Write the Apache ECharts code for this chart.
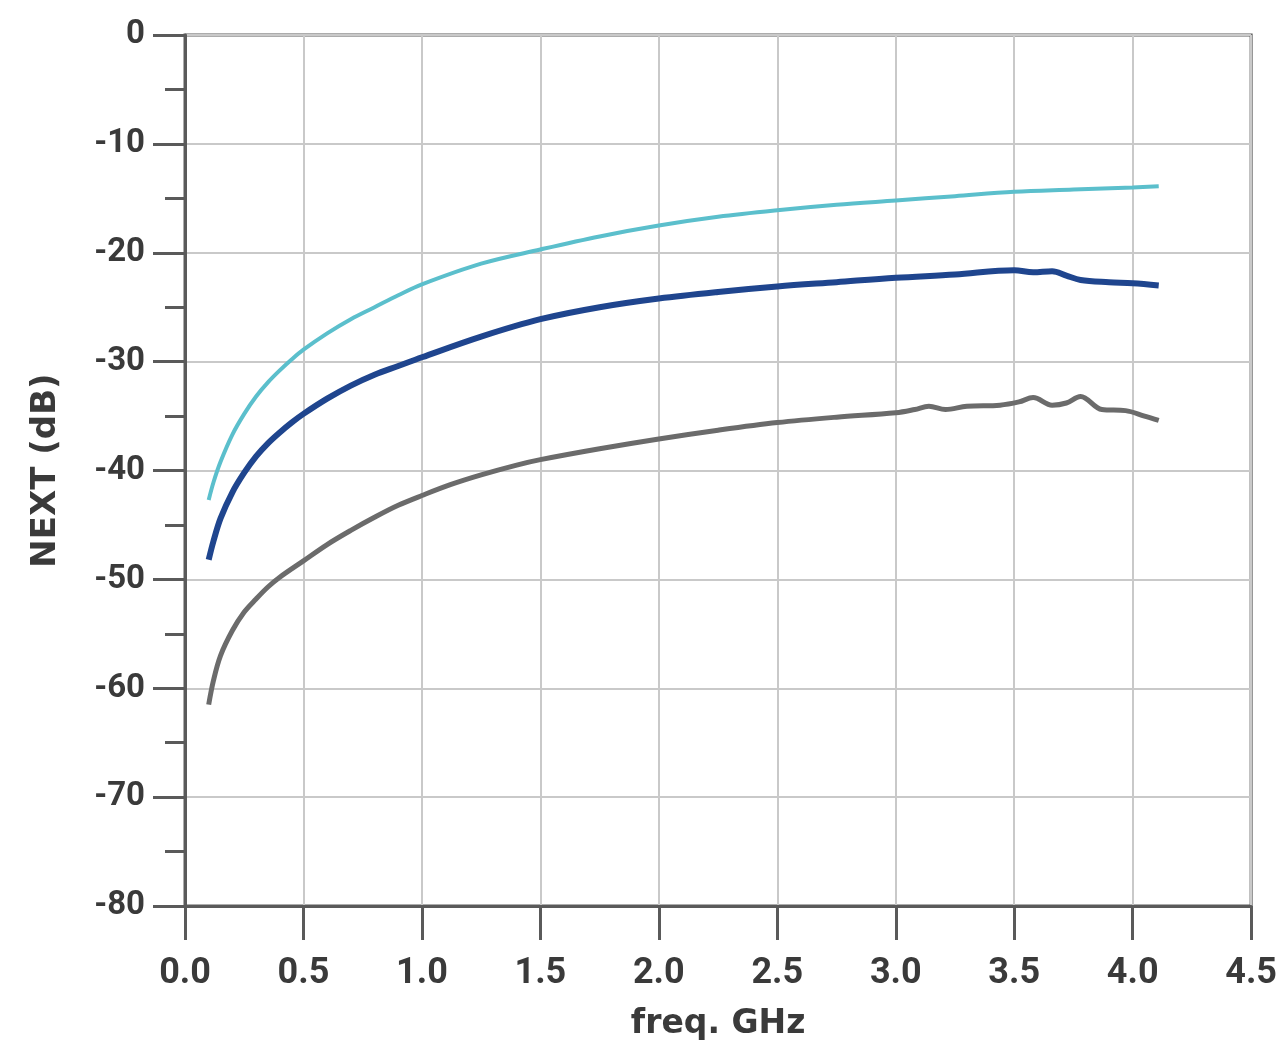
<!DOCTYPE html>
<html>
<head>
<meta charset="utf-8">
<script src="https://cdn.jsdelivr.net/npm/echarts@6/dist/echarts.min.js"></script>
<style>html,body{margin:0;padding:0;background:#fff}#chart{width:1280px;height:1052px}</style>
</head>
<body>
<div id="chart"></div>
<script>
// Tick values
const xTicks = [0.0, 0.5, 1.0, 1.5, 2.0, 2.5, 3.0, 3.5, 4.0, 4.5];
const yTicks = [0, -10, -20, -30, -40, -50, -60, -70, -80];

// Cyan curve (upper)
const cyanFreq = [0.10, 0.12, 0.15, 0.20, 0.25, 0.30, 0.35, 0.40, 0.45, 0.50, 0.60, 0.70, 0.80, 0.90, 1.00, 1.25, 1.50, 1.75, 2.00, 2.25, 2.50, 2.75, 3.00, 3.25, 3.50, 3.75, 4.00, 4.11];
const cyanNext = [-42.7, -41.1, -39.2, -36.7, -34.8, -33.2, -31.9, -30.8, -29.8, -28.9, -27.4, -26.1, -25.0, -23.9, -22.9, -21.0, -19.7, -18.5, -17.5, -16.7, -16.1, -15.6, -15.2, -14.8, -14.4, -14.2, -14.0, -13.9];

// Dark blue curve (middle)
const blueFreq = [0.10, 0.12, 0.15, 0.20, 0.25, 0.30, 0.35, 0.40, 0.45, 0.50, 0.60, 0.70, 0.80, 0.90, 1.00, 1.25, 1.50, 1.75, 2.00, 2.25, 2.50, 2.75, 3.00, 3.25, 3.50, 3.58, 3.66, 3.72, 3.78, 3.90, 4.00, 4.11];
const blueNext = [-48.2, -46.5, -44.4, -42.0, -40.2, -38.7, -37.5, -36.5, -35.6, -34.8, -33.4, -32.2, -31.2, -30.4, -29.6, -27.7, -26.1, -25.0, -24.2, -23.6, -23.1, -22.7, -22.3, -22.0, -21.6, -21.8, -21.7, -22.1, -22.5, -22.7, -22.8, -23.0];

// Gray curve (lower)
const grayFreq = [0.10, 0.12, 0.15, 0.20, 0.25, 0.30, 0.35, 0.40, 0.50, 0.60, 0.70, 0.80, 0.90, 1.00, 1.12, 1.25, 1.40, 1.50, 1.75, 2.00, 2.25, 2.50, 2.75, 3.00, 3.08, 3.14, 3.21, 3.30, 3.44, 3.52, 3.58, 3.66, 3.72, 3.78, 3.87, 3.97, 4.05, 4.11];
const grayNext = [-61.5, -59.3, -57.0, -54.7, -53.0, -51.8, -50.7, -49.8, -48.3, -46.8, -45.5, -44.3, -43.2, -42.3, -41.3, -40.4, -39.5, -39.0, -38.0, -37.1, -36.3, -35.6, -35.1, -34.7, -34.4, -34.1, -34.4, -34.1, -34.0, -33.7, -33.3, -34.0, -33.8, -33.2, -34.4, -34.5, -35.0, -35.4];

const pair = (xs, ys) => xs.map((x, i) => [x, ys[i]]);

const chart = echarts.init(document.getElementById('chart'), null, {renderer: 'canvas'});
const axisColor = '#5a5a5a';
const labelColor = '#3a3a3a';
chart.setOption({
  animation: false,
  backgroundColor: '#ffffff',
  grid: {left: 185, right: 28, top: 35, bottom: 146, show: true, borderColor: axisColor, borderWidth: 3, backgroundColor: 'transparent'},
  xAxis: {
    type: 'value',
    min: xTicks[0], max: xTicks[xTicks.length - 1], interval: 0.5,
    name: 'freq. GHz', nameLocation: 'middle', nameGap: 102,
    nameTextStyle: {fontFamily: 'DejaVu Sans', fontWeight: 'bold', fontSize: 33, color: labelColor},
    axisLine: {show: true, onZero: false, lineStyle: {color: axisColor, width: 3}},
    axisTick: {show: true, length: 34, lineStyle: {color: axisColor, width: 3}},
    axisLabel: {margin: 50, fontFamily: 'Roboto', fontWeight: 'bold', fontSize: 36, color: labelColor,
      formatter: v => v.toFixed(1)},
    splitLine: {show: true, lineStyle: {color: '#c9c9c9', width: 2}}
  },
  yAxis: {
    type: 'value',
    min: yTicks[yTicks.length - 1], max: yTicks[0], interval: 10,
    name: 'NEXT (dB)', nameLocation: 'middle', nameGap: 122,
    nameTextStyle: {fontFamily: 'DejaVu Sans', fontWeight: 'bold', fontSize: 34, color: labelColor},
    axisLine: {show: true, onZero: false, lineStyle: {color: axisColor, width: 3}},
    axisTick: {show: true, length: 32, lineStyle: {color: axisColor, width: 3}},
    minorTick: {show: true, splitNumber: 2, length: 20, lineStyle: {color: axisColor, width: 3}},
    axisLabel: {margin: 40, fontFamily: 'Roboto', fontWeight: 'bold', fontSize: 33, color: labelColor},
    splitLine: {show: true, lineStyle: {color: '#c9c9c9', width: 2}}
  },
  series: [
    {type: 'line', data: pair(cyanFreq, cyanNext), showSymbol: false, smooth: 0.35,
      lineStyle: {color: '#5bbfcc', width: 4}, itemStyle: {color: '#5bbfcc'}},
    {type: 'line', data: pair(blueFreq, blueNext), showSymbol: false, smooth: 0.35,
      lineStyle: {color: '#1f458e', width: 6}, itemStyle: {color: '#1f458e'}},
    {type: 'line', data: pair(grayFreq, grayNext), showSymbol: false, smooth: 0.35,
      lineStyle: {color: '#6b6b6b', width: 5}, itemStyle: {color: '#6b6b6b'}}
  ]
});
</script>
</body>
</html>
